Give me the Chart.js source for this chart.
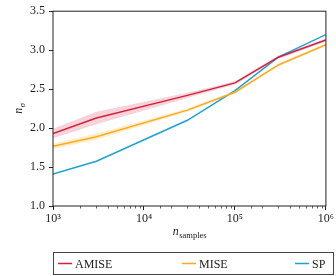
<!DOCTYPE html>
<html>
<head>
<meta charset="utf-8">
<script src="https://cdn.jsdelivr.net/npm/chart.js@4.4.1/dist/chart.umd.min.js"></script>
<style>
  html, body { margin: 0; padding: 0; background: #fff; }
  #wrap { width: 336px; height: 276px; }
</style>
</head>
<body>
<div id="wrap"><canvas id="chart" width="336" height="276"></canvas></div>
<script>
// data
const samples = [1000, 3000, 30000, 100000, 300000, 1000000];
const amise = [1.93, 2.13, 2.42, 2.58, 2.91, 3.13];
const amiseSpread = [0.06, 0.08, 0.035, 0.02, 0.02, 0.02];
const mise = [1.765, 1.89, 2.23, 2.46, 2.81, 3.07];
const miseSpread = [0.035, 0.04, 0.02, 0.015, 0.015, 0.015];
const sp = [1.41, 1.575, 2.10, 2.48, 2.91, 3.20];
const yTicks = [1.0, 1.5, 2.0, 2.5, 3.0, 3.5];
const seriesNames = ['AMISE', 'MISE', 'SP'];

const RED = '#d4213f', ORANGE = '#fdab1c', BLUE = '#1ea1d7';
const FONT = '"Liberation Serif", "DejaVu Serif", serif';

const pts = vals => samples.map((x, i) => ({ x: x, y: vals[i] }));
const shifted = (vals, spread, s) => samples.map((x, i) => ({ x: x, y: vals[i] + s * spread[i] }));

const band = (data, color, fill) => ({
  data: data, borderWidth: 0, pointRadius: 0, backgroundColor: color,
  fill: fill, tension: 0, order: 5
});
const line = (label, data, color) => ({
  label: label, data: data, borderColor: color, borderWidth: 1.5,
  pointRadius: 0, fill: false, tension: 0, order: 1
});

// frame, minor ticks, axis titles, legend
const extras = {
  id: 'extras',
  afterDraw(chart) {
    const { ctx, chartArea: a } = chart;
    const xs = chart.scales.x;
    ctx.save();
    ctx.strokeStyle = '#222';
    ctx.lineWidth = 1;
    ctx.strokeRect(a.left, a.top, a.right - a.left, a.bottom - a.top);

    ctx.lineWidth = 0.7;
    xs.ticks.forEach(t => {
      const lg = Math.log10(t.value);
      if (Math.abs(lg - Math.round(lg)) < 1e-9) return;
      const px = Math.round(xs.getPixelForValue(t.value)) + 0.5;
      ctx.beginPath();
      ctx.moveTo(px, a.bottom);
      ctx.lineTo(px, a.bottom + 2.5);
      ctx.stroke();
    });

    ctx.fillStyle = '#222';
    ctx.textBaseline = 'alphabetic';
    // x title: n_samples
    const cx = (a.left + a.right) / 2;
    ctx.font = 'italic 12px ' + FONT;
    const wn = ctx.measureText('n').width;
    ctx.font = '8.5px ' + FONT;
    const ws = ctx.measureText('samples').width;
    let x0 = cx - (wn + ws) / 2;
    ctx.font = 'italic 12px ' + FONT;
    ctx.textAlign = 'left';
    ctx.fillText('n', x0, 235);
    ctx.font = '8.5px ' + FONT;
    ctx.fillText('samples', x0 + wn + 0.5, 238);

    // y title: n_sigma
    ctx.save();
    ctx.translate(22, (a.top + a.bottom) / 2);
    ctx.rotate(-Math.PI / 2);
    ctx.font = 'italic 12px ' + FONT;
    const wn2 = ctx.measureText('n').width;
    ctx.font = 'italic 8.5px ' + FONT;
    const wsig = ctx.measureText('σ').width;
    x0 = -(wn2 + wsig) / 2;
    ctx.font = 'italic 12px ' + FONT;
    ctx.fillText('n', x0, 0);
    ctx.font = 'italic 8.5px ' + FONT;
    ctx.fillText('σ', x0 + wn2 + 0.5, 3);
    ctx.restore();

    // legend box, expanded over the plot width
    const lx = a.left + 0.5, ly = 252.5, lw = 280, lh = 22;
    ctx.strokeStyle = '#444';
    ctx.lineWidth = 1;
    ctx.strokeRect(lx, ly, lw, lh);
    const colors = [RED, ORANGE, BLUE];
    const starts = [58, 182, 295];
    ctx.font = '12px ' + FONT;
    ctx.textBaseline = 'middle';
    seriesNames.forEach((name, i) => {
      ctx.strokeStyle = colors[i];
      ctx.lineWidth = 1.5;
      ctx.beginPath();
      ctx.moveTo(starts[i], ly + lh / 2);
      ctx.lineTo(starts[i] + 14, ly + lh / 2);
      ctx.stroke();
      ctx.fillStyle = '#222';
      ctx.fillText(name, starts[i] + 17, ly + lh / 2 + 1);
    });
    ctx.restore();
  }
};

new Chart(document.getElementById('chart'), {
  type: 'line',
  data: {
    datasets: [
      band(shifted(amise, amiseSpread, 1), 'rgba(212,33,63,0.2)', '+1'),
      band(shifted(amise, amiseSpread, -1), 'rgba(212,33,63,0.2)', false),
      band(shifted(mise, miseSpread, 1), 'rgba(253,171,28,0.22)', '+1'),
      band(shifted(mise, miseSpread, -1), 'rgba(253,171,28,0.22)', false),
      line(seriesNames[0], pts(amise), RED),
      line(seriesNames[1], pts(mise), ORANGE),
      line(seriesNames[2], pts(sp), BLUE)
    ]
  },
  options: {
    responsive: false,
    animation: false,
    layout: { padding: { top: 3, right: 4, left: 0, bottom: 0 } },
    plugins: { legend: { display: false }, tooltip: { enabled: false } },
    scales: {
      x: {
        type: 'logarithmic',
        min: 1000, max: 1000000,
        afterFit: s => { s.height = 70; },
        border: { display: false },
        grid: {
          drawOnChartArea: false, tickLength: 4, tickWidth: 1,
          tickColor: c => {
            const lg = Math.log10(c.tick.value);
            return Math.abs(lg - Math.round(lg)) < 1e-9 ? '#222' : 'rgba(0,0,0,0)';
          }
        },
        ticks: {
          autoSkip: false, maxRotation: 0, padding: 2, color: '#222',
          font: { family: FONT, size: 12 },
          callback: v => {
            const lg = Math.log10(v);
            if (Math.abs(lg - Math.round(lg)) > 1e-9) return '';
            return '10' + '⁰¹²³⁴⁵⁶⁷⁸⁹'[Math.round(lg)];
          }
        }
      },
      y: {
        min: 1.0, max: 3.5,
        afterFit: s => { s.width = 53; },
        afterBuildTicks: s => { s.ticks = yTicks.map(v => ({ value: v })); },
        border: { display: false },
        grid: { drawOnChartArea: false, tickLength: 4, tickColor: '#222' },
        ticks: {
          padding: 4, color: '#222',
          font: { family: FONT, size: 12 },
          callback: v => v.toFixed(1)
        }
      }
    }
  },
  plugins: [extras]
});
</script>
</body>
</html>
